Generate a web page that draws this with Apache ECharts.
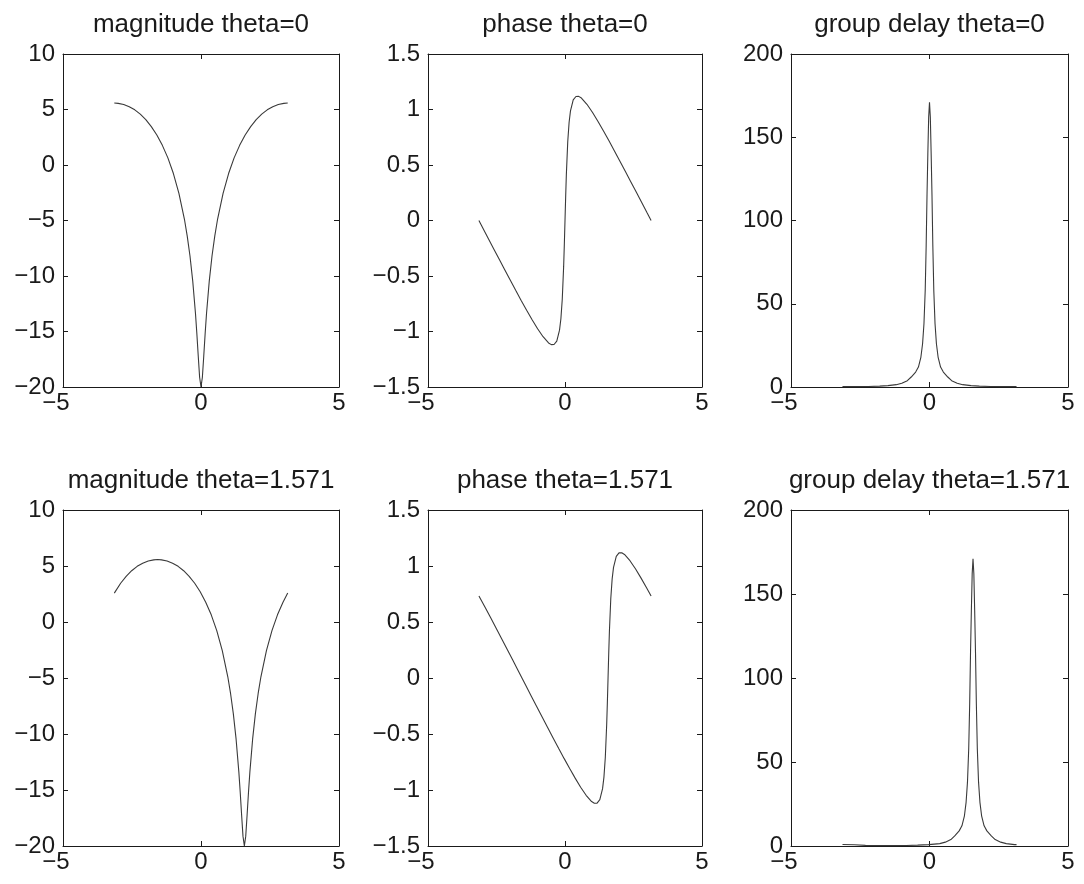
<!DOCTYPE html>
<html>
<head>
<meta charset="utf-8">
<title>magnitude / phase / group delay</title>
<script src="https://cdn.jsdelivr.net/npm/echarts@6/dist/echarts.min.js"></script>
<style>
    html, body { margin: 0; padding: 0; background: #fff; }
    #chart { width: 1084px; height: 884px; }
</style>
</head>
<body>
<div id="chart"></div>
<script>
// titles of the six panels (row 1 then row 2)
const titles = [
    'magnitude theta=0', 'phase theta=0', 'group delay theta=0',
    'magnitude theta=1.571', 'phase theta=1.571', 'group delay theta=1.571'
];

// axis ranges: [min, max, interval]
const xRange = [-5, 5, 5];
const magRange = [-20, 10, 5];
const phaseRange = [-1.5, 1.5, 0.5];
const delayRange = [0, 200, 50];

// magnitude theta=0
const magX0 = [-3.142, -3.0, -2.8, -2.6, -2.4, -2.2, -2.0, -1.8, -1.6, -1.4,
    -1.2, -1.0, -0.8, -0.6, -0.5, -0.4, -0.3, -0.2, -0.15, -0.1,
    -0.05, 0, 0.05, 0.1, 0.15, 0.2, 0.3, 0.4, 0.5, 0.6,
    0.8, 1.0, 1.2, 1.4, 1.6, 1.8, 2.0, 2.2, 2.4, 2.6,
    2.8, 3.0, 3.142];
const magY0 = [5.58, 5.55, 5.45, 5.25, 4.97, 4.58, 4.08, 3.46, 2.70, 1.77,
    0.64, -0.77, -2.55, -4.89, -6.38, -8.18, -10.44, -13.38, -15.20, -17.21,
    -19.12, -20, -19.12, -17.21, -15.20, -13.38, -10.44, -8.18, -6.38, -4.89,
    -2.55, -0.77, 0.64, 1.77, 2.70, 3.46, 4.08, 4.58, 4.97, 5.25,
    5.45, 5.55, 5.58];

// magnitude theta=1.571
const magX1 = [-3.141, -2.912, -2.712, -2.512, -2.312, -2.112, -1.912, -1.712, -1.571, -1.429,
    -1.229, -1.029, -0.829, -0.629, -0.429, -0.229, -0.029, 0.171, 0.371, 0.571,
    0.771, 0.971, 1.071, 1.171, 1.271, 1.371, 1.421, 1.471, 1.521, 1.571,
    1.621, 1.671, 1.721, 1.771, 1.871, 1.971, 2.071, 2.171, 2.371, 2.571,
    2.771, 2.971, 3.142];
const magY1 = [2.58, 3.46, 4.08, 4.58, 4.97, 5.25, 5.45, 5.55, 5.58, 5.55,
    5.45, 5.25, 4.97, 4.58, 4.08, 3.46, 2.70, 1.77, 0.64, -0.77,
    -2.55, -4.89, -6.38, -8.18, -10.44, -13.38, -15.20, -17.21, -19.12, -20,
    -19.12, -17.21, -15.20, -13.38, -10.44, -8.18, -6.38, -4.89, -2.55, -0.77,
    0.64, 1.77, 2.58];

// phase theta=0
const phaseX0 = [-3.142, -3.0, -2.8, -2.6, -2.4, -2.2, -2.0, -1.8, -1.6, -1.4,
    -1.2, -1.0, -0.8, -0.6, -0.5, -0.45, -0.4, -0.3, -0.2, -0.15,
    -0.1, -0.05, -0.025, 0, 0.025, 0.05, 0.1, 0.15, 0.2, 0.3,
    0.4, 0.45, 0.5, 0.6, 0.8, 1.0, 1.2, 1.4, 1.6, 1.8,
    2.0, 2.2, 2.4, 2.6, 2.8, 3.0, 3.142];
const phaseY0 = [0, -0.067, -0.162, -0.256, -0.350, -0.444, -0.537, -0.629, -0.720, -0.808,
    -0.894, -0.975, -1.047, -1.103, -1.118, -1.120, -1.117, -1.086, -0.988, -0.885,
    -0.710, -0.418, -0.221, 0, 0.221, 0.418, 0.710, 0.885, 0.988, 1.086,
    1.117, 1.120, 1.118, 1.103, 1.047, 0.975, 0.894, 0.808, 0.720, 0.629,
    0.537, 0.444, 0.350, 0.256, 0.162, 0.067, 0];

// phase theta=1.571
const phaseX1 = [-3.141, -2.912, -2.712, -2.512, -2.312, -2.112, -1.912, -1.712, -1.571, -1.429,
    -1.229, -1.029, -0.829, -0.629, -0.429, -0.229, -0.029, 0.171, 0.371, 0.571,
    0.771, 0.971, 1.071, 1.121, 1.171, 1.271, 1.371, 1.421, 1.471, 1.521,
    1.546, 1.571, 1.596, 1.621, 1.671, 1.721, 1.771, 1.871, 1.971, 2.021,
    2.071, 2.171, 2.371, 2.571, 2.771, 2.971, 3.142];
const phaseY1 = [0.733, 0.629, 0.537, 0.444, 0.350, 0.256, 0.162, 0.067, 0, -0.067,
    -0.162, -0.256, -0.350, -0.444, -0.537, -0.629, -0.720, -0.808, -0.894, -0.975,
    -1.047, -1.103, -1.118, -1.120, -1.117, -1.086, -0.988, -0.885, -0.710, -0.418,
    -0.221, 0, 0.221, 0.418, 0.710, 0.885, 0.988, 1.086, 1.117, 1.120,
    1.118, 1.103, 1.047, 0.975, 0.894, 0.808, 0.733];

// group delay theta=0
const delayX0 = [-3.142, -2.6, -2.2, -1.8, -1.5, -1.2, -1.0, -0.8, -0.66, -0.5,
    -0.4, -0.31, -0.25, -0.2, -0.155, -0.12, -0.09, -0.06, -0.03, 0,
    0.03, 0.06, 0.09, 0.12, 0.155, 0.2, 0.25, 0.31, 0.4, 0.5,
    0.66, 0.8, 1.0, 1.2, 1.5, 1.8, 2.2, 2.6, 3.142];
const delayY0 = [0.2, 0.2, 0.3, 0.5, 0.8, 1.4, 2.3, 3.8, 6, 9,
    12, 18, 26, 38, 58, 85, 115, 140, 162, 171,
    162, 140, 115, 85, 58, 38, 26, 18, 12, 9,
    6, 3.8, 2.3, 1.4, 0.8, 0.5, 0.3, 0.2, 0.2];

// group delay theta=1.571
const delayX1 = [-3.141, -2.712, -2.312, -1.912, -1.571, -1.229, -0.829, -0.429, -0.029, 0.371,
    0.571, 0.771, 0.911, 1.071, 1.171, 1.261, 1.321, 1.371, 1.416, 1.451,
    1.481, 1.511, 1.541, 1.571, 1.601, 1.631, 1.661, 1.691, 1.726, 1.771,
    1.821, 1.881, 1.971, 2.071, 2.231, 2.371, 2.571, 2.771, 3.071, 3.142];
const delayY1 = [0.9, 0.7, 0.4, 0.2, 0.2, 0.2, 0.3, 0.5, 0.8, 1.4,
    2.3, 3.8, 6, 9, 12, 18, 26, 38, 58, 85,
    115, 140, 162, 171, 162, 140, 115, 85, 58, 38,
    26, 18, 12, 9, 6, 3.8, 2.3, 1.4, 0.8, 0.8];

const FONT = "'Liberation Sans', Arial, sans-serif";
const INK = '#1a1a1a';

function zip(xs, ys) {
    let out = [];
    for (let i = 0; i < xs.length; i++) out.push([xs[i], ys[i]]);
    return out;
}

function minusFmt(v) {//matlab style minus sign
    return v < 0 ? '\u2212' + Math.abs(v) : String(v);
}

function draw_Panels() {
    let chart = echarts.init(document.getElementById('chart'));

    // plot boxes in pixels
    let cols = [[63, 276], [428, 274], [791, 277]];
    let rows = [[54, 333], [510, 336]];
    let yRanges = [magRange, phaseRange, delayRange];
    let panels = [
        zip(magX0, magY0), zip(phaseX0, phaseY0), zip(delayX0, delayY0),
        zip(magX1, magY1), zip(phaseX1, phaseY1), zip(delayX1, delayY1)
    ];

    let grid = [], xAxis = [], yAxis = [], series = [], title = [];
    let line = { show: true, onZero: false, lineStyle: { color: INK, width: 1 } };
    let tick = { inside: true, length: 5, lineStyle: { color: INK } };

    for (let i = 0; i < 6; i++) {
        let c = cols[i % 3], r = rows[Math.floor(i / 3)];
        let yr = yRanges[i % 3];
        grid.push({ left: c[0], top: r[0], width: c[1], height: r[1] });

        title.push({
            text: titles[i],
            left: c[0] + c[1] / 2,
            top: r[0] - 42,
            textAlign: 'center',
            padding: 0,
            textStyle: { fontFamily: FONT, fontSize: 26, fontWeight: 'normal', color: INK }
        });

        // bottom axis with labels, top axis only ticks
        xAxis.push({
            type: 'value', gridIndex: i, position: 'bottom',
            min: xRange[0], max: xRange[1], interval: xRange[2],
            axisLine: line, splitLine: { show: false }, axisTick: tick,
            axisLabel: {
                fontFamily: FONT, fontSize: 24, color: INK, margin: 4,
                formatter: v => v < 0 ? '{n|' + minusFmt(v) + '}' : minusFmt(v),
                rich: { n: { fontFamily: FONT, fontSize: 24, color: INK, padding: [0, 14, 0, 0] } }
            }
        });
        xAxis.push({
            type: 'value', gridIndex: i, position: 'top',
            min: xRange[0], max: xRange[1], interval: xRange[2],
            axisLine: line, splitLine: { show: false }, axisTick: tick,
            axisLabel: { show: false }
        });
        yAxis.push({
            type: 'value', gridIndex: i, position: 'left',
            min: yr[0], max: yr[1], interval: yr[2],
            axisLine: line, splitLine: { show: false }, axisTick: tick,
            axisLabel: { fontFamily: FONT, fontSize: 24, color: INK, margin: 8, formatter: minusFmt }
        });
        yAxis.push({
            type: 'value', gridIndex: i, position: 'right',
            min: yr[0], max: yr[1], interval: yr[2],
            axisLine: line, splitLine: { show: false }, axisTick: tick,
            axisLabel: { show: false }
        });

        series.push({
            type: 'line',
            xAxisIndex: i * 2,
            yAxisIndex: i * 2,
            data: panels[i],
            showSymbol: false,
            lineStyle: { color: '#3a3a3a', width: 1.1 },
            animation: false
        });
    }

    chart.setOption({
        backgroundColor: '#fff',
        animation: false,
        title: title,
        grid: grid,
        xAxis: xAxis,
        yAxis: yAxis,
        series: series
    });
}

draw_Panels();
</script>
</body>
</html>
